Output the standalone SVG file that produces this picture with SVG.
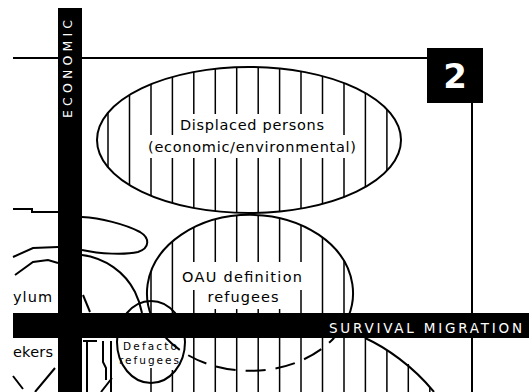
<svg xmlns="http://www.w3.org/2000/svg" width="529" height="392" viewBox="0 0 529 392">
<style>
.h{stroke:#000;stroke-width:1.5;fill:none}
.o{stroke:#000;stroke-width:2;fill:none}
.t{font-family:"DejaVu Sans","Liberation Sans",Arial,sans-serif;font-size:14.5px;fill:#000}
.s{font-family:"DejaVu Sans","Liberation Sans",Arial,sans-serif;font-size:10.5px;fill:#000}
.w{fill:#fff}
.k{fill:#000}
.bt{font-family:"DejaVu Sans","Liberation Sans",Arial,sans-serif;fill:#fff}
</style>
<defs>
<clipPath id="cD"><ellipse cx="249" cy="140" rx="152" ry="73"/></clipPath>
<clipPath id="cO"><ellipse cx="250" cy="293" rx="103" ry="78"/></clipPath>
</defs>
<rect width="529" height="392" fill="#fff"/>

<g id="displaced">
<g clip-path="url(#cD)"><path class="h" d="M108 60V220M129.5 60V220M151 60V220M172.4 60V220M193.8 60V220M215.3 60V220M236.7 60V220M258.2 60V220M279.6 60V220M301 60V220M322.5 60V220M344 60V220M365.4 60V220M386.9 60V220"/></g>
<rect class="w" x="176" y="114" width="152" height="22"/>
<rect class="w" x="144" y="135" width="216" height="23"/>
<ellipse class="o" cx="249" cy="140" rx="152" ry="73"/>
<text class="t" x="252" y="130" text-anchor="middle" textLength="144" lengthAdjust="spacing">Displaced persons</text>
<text class="t" x="252" y="152" text-anchor="middle" textLength="208" lengthAdjust="spacing">(economic/environmental)</text>
</g>

<g id="oau">
<g clip-path="url(#cO)"><path class="h" d="M151 200V313M172.4 200V313M193.8 200V313M215.3 200V313M236.7 200V313M258.2 200V313M279.6 200V313M301 200V313M322.5 200V313M344 200V313"/></g>
<rect class="w" x="178" y="262" width="128" height="28"/>
<rect class="w" x="203" y="289" width="82" height="20"/>
<path class="o" d="M166 338A103 78 0 1 1 334 338"/>
<path class="o" d="M334 338A103 78 0 0 1 166 338" stroke-dasharray="20 10" stroke-dashoffset="13"/>
<text class="t" x="242" y="282" text-anchor="middle" textLength="120" lengthAdjust="spacing">OAU definition</text>
<text class="t" x="243" y="302" text-anchor="middle" textLength="71" lengthAdjust="spacing">refugees</text>
</g>

<g id="defacto">
<ellipse class="o" cx="151" cy="342" rx="34" ry="41"/>
<text class="s" x="150" y="350" text-anchor="middle" textLength="54" lengthAdjust="spacing">Defacto</text>
<text class="s" x="149" y="364" text-anchor="middle" textLength="60" lengthAdjust="spacing">refugees</text>
</g>

<g id="asylum">
<text class="t" x="13" y="302" textLength="39" lengthAdjust="spacing">ylum</text>
</g>
<g id="seekers">
<text class="t" x="13" y="357" textLength="40" lengthAdjust="spacing">ekers</text>
</g>

<g id="connectors">
<path class="h" d="M151 368V392M172.4 370V392M193.8 338V392M215.3 338V392M236.7 338V392M258.2 338V392M279.6 338V392M301 338V392M322.5 338V392M344 338V392M365.4 338V392M386.9 351V392M408.3 364V392M429.8 387V392"/>
<path class="o" d="M13 209H32V212H58"/>
<path class="o" d="M13 257L33 248L58 247"/>
<path class="o" d="M15 275L33 262L48 260L58 263"/>
<path class="o" d="M82 217C100 218 125 224 140 232C150 238 150 248 138 252C125 255 100 254 82 250"/>
<path class="o" d="M82 255C105 258 125 272 135 292C139 300 141 308 142 313"/>
<path class="o" d="M83 295L90 312"/>
<path class="o" d="M83 341H97M87 341V392M103 341V362L106 368V380M111 341V392M101 392L112 378"/>
<path class="o" d="M13 376L23 389M35 392L55 368"/>
<path class="o" d="M365 338C385 347 413 366 434 392"/>
<path class="o" d="M13 58H427M472 103V392"/>
</g>

<g id="economic">
<rect class="k" x="58" y="8" width="24" height="384"/>
<text class="bt" font-size="12.5" transform="translate(72,69) rotate(-90)" text-anchor="middle" textLength="98" lengthAdjust="spacing">ECONOMIC</text>
</g>

<g id="survival">
<rect class="k" x="13" y="313" width="516" height="25"/>
<text class="bt" font-size="13.5" x="329" y="333" textLength="193" lengthAdjust="spacing">SURVIVAL  MIGRATION</text>
</g>

<g id="box2">
<rect class="k" x="427" y="48" width="56" height="55"/>
<text class="bt" font-size="34" font-weight="bold" x="455" y="88" text-anchor="middle">2</text>
</g>
</svg>
